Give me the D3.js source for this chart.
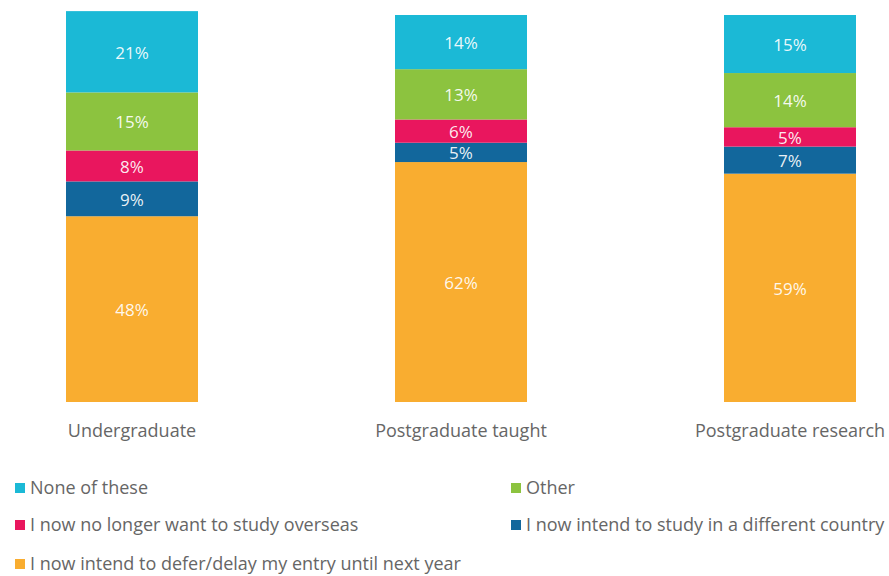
<!DOCTYPE html>
<html lang="en">
  <head>
    <meta charset="UTF-8" />
    <title>Study plans stacked bars</title>
    <style>
      body {
        margin: 0;
        background: #fff;
        font-family: "Open Sans", sans-serif;
      }
      svg {
        display: block;
      }
    </style>
  </head>
  <body>
    <script src="https://cdn.jsdelivr.net/npm/d3@7"></script>
    <script>
      // data, bottom-up stacking order
      var categories = ["Undergraduate", "Postgraduate taught", "Postgraduate research"];
      var seriesNames = [
        "I now intend to defer/delay my entry until next year",
        "I now intend to study in a different country",
        "I now no longer want to study overseas",
        "Other",
        "None of these"
      ];
      var defer = [48, 62, 59];
      var differentCountry = [9, 5, 7];
      var noLonger = [8, 6, 5];
      var other = [15, 13, 14];
      var noneOfThese = [21, 14, 15];
      var colors = ["#f9ad30", "#12679c", "#e9165e", "#8cc33f", "#1bb9d6"];

      // legend order as in picture (two columns)
      var legendOrder = [4, 3, 2, 1, 0];

      var width = 889, height = 576;
      var svg = d3.select("body").append("svg")
        .attr("width", width)
        .attr("height", height);

      var rows = categories.map(function (c, i) {
        return {
          cat: c,
          s0: defer[i],
          s1: differentCountry[i],
          s2: noLonger[i],
          s3: other[i],
          s4: noneOfThese[i]
        };
      });
      var keys = ["s0", "s1", "s2", "s3", "s4"];
      var stacked = d3.stack().keys(keys)(rows);

      var x = d3.scalePoint().domain(categories).range([132, 790]);
      var barW = 132;

      var y = d3.scaleLinear().domain([0, 100]).range([402, 15]);

      var layer = svg.selectAll("g.layer")
        .data(stacked)
        .enter().append("g")
        .attr("class", "layer")
        .attr("fill", function (d, i) { return colors[i]; });

      layer.selectAll("rect")
        .data(function (d) { return d; })
        .enter().append("rect")
        .attr("x", function (d) { return x(d.data.cat) - barW / 2; })
        .attr("width", barW)
        .attr("y", function (d) { return y(d[1]); })
        .attr("height", function (d) { return y(d[0]) - y(d[1]); });

      layer.selectAll("text")
        .data(function (d) { return d; })
        .enter().append("text")
        .attr("x", function (d) { return x(d.data.cat); })
        .attr("y", function (d) { return (y(d[0]) + y(d[1])) / 2; })
        .attr("dy", "0.4em")
        .attr("text-anchor", "middle")
        .attr("fill", "#fff")
        .attr("fill-opacity", 0.92)
        .style("font-size", "17px")
        .text(function (d) { return (d[1] - d[0]) + "%"; });

      // category labels
      svg.selectAll("text.cat")
        .data(categories)
        .enter().append("text")
        .attr("class", "cat")
        .attr("x", function (d) { return x(d); })
        .attr("y", 431)
        .attr("dy", "0.35em")
        .attr("text-anchor", "middle")
        .attr("fill", "#666")
        .style("font-size", "18px")
        .text(function (d) { return d; });

      // legend
      var legendPos = [
        [15, 488], [511, 488],
        [15, 525], [511, 525],
        [15, 564]
      ];
      var legend = svg.selectAll("g.legend")
        .data(legendOrder)
        .enter().append("g")
        .attr("class", "legend")
        .attr("transform", function (d, i) {
          return "translate(" + legendPos[i][0] + "," + legendPos[i][1] + ")";
        });
      legend.append("rect")
        .attr("x", 0)
        .attr("y", -5)
        .attr("width", 10)
        .attr("height", 10)
        .attr("fill", function (d) { return colors[d]; });
      legend.append("text")
        .attr("x", 15)
        .attr("y", 0)
        .attr("dy", "0.35em")
        .attr("fill", "#666")
        .style("font-size", "18px")
        .text(function (d) { return seriesNames[d]; });
    </script>
  </body>
</html>
